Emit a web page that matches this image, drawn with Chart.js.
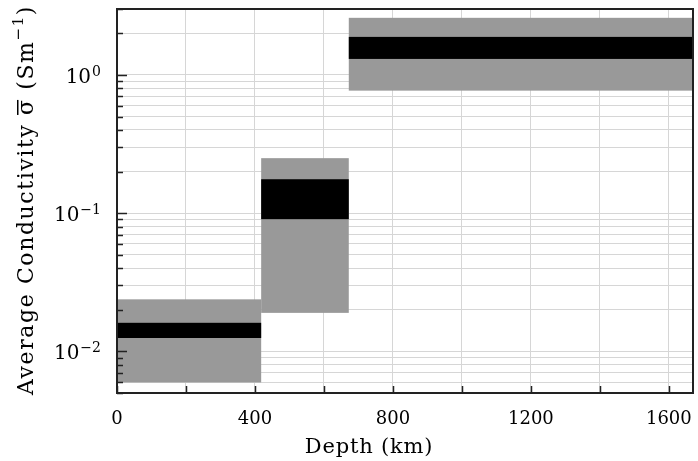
<!DOCTYPE html>
<html>
<head>
<meta charset="utf-8">
<script src="https://cdn.jsdelivr.net/npm/chart.js@4.4.1/dist/chart.umd.min.js"></script>
<style>
  html, body { margin: 0; padding: 0; background: #fff; }
  #wrap { width: 698px; height: 461px; }
</style>
</head>
<body>
<div id="wrap"><canvas id="myConductivityChart"></canvas></div>
<script>
const myConductivityChart = document.getElementById('myConductivityChart');

// layers (km) and conductivity bounds (S/m)
const depthStart = [0, 418, 672];
const depthEnd = [418, 672, 1670];
const sigmaLow = [0.00596, 0.0190, 0.77];
const sigmaHigh = [0.0238, 0.250, 2.59];
const bestLow = [0.0125, 0.0905, 1.306];
const bestHigh = [0.0161, 0.176, 1.885];

const xTicks = [0, 200, 400, 600, 800, 1000, 1200, 1400, 1600];
const xLabelTicks = [0, 400, 800, 1200, 1600];
const yGridValues = [
  0.005, 0.006, 0.007, 0.008, 0.009,
  0.01, 0.02, 0.03, 0.04, 0.05, 0.06, 0.07, 0.08, 0.09,
  0.1, 0.2, 0.3, 0.4, 0.5, 0.6, 0.7, 0.8, 0.9,
  1, 2, 3
];
const yMajors = [0.01, 0.1, 1];
const yExponents = ['\u22122', '\u22121', '0'];
const xTitle = 'Depth (km)';
const yTitleParts = ['Average Conductivity ', '\u03C3', ' (Sm', '\u22121', ')'];

const FONT = "'DejaVu Serif', serif";

const layerBoxes = {
  id: 'layerBoxes',
  beforeDatasetsDraw(chart) {
    const { ctx, chartArea: { top, left, bottom, right }, scales: { x, y } } = chart;
    ctx.save();
    ctx.beginPath();
    ctx.rect(left, top, right - left, bottom - top);
    ctx.clip();
    for (let i = 0; i < depthStart.length; i++) {
      const x0 = x.getPixelForValue(depthStart[i]);
      const x1 = x.getPixelForValue(depthEnd[i]);
      ctx.fillStyle = 'rgb(153, 153, 153)';
      const g0 = y.getPixelForValue(sigmaHigh[i]);
      const g1 = y.getPixelForValue(sigmaLow[i]);
      ctx.fillRect(x0, g0, x1 - x0, g1 - g0);
      ctx.fillStyle = '#000';
      const b0 = y.getPixelForValue(bestHigh[i]);
      const b1 = y.getPixelForValue(bestLow[i]);
      ctx.fillRect(x0, b0, x1 - x0, b1 - b0);
    }
    ctx.restore();
  },
  afterDraw(chart) {
    const { ctx, chartArea: { top, left, bottom, right }, scales: { x, y } } = chart;
    ctx.save();
    // inner ticks + frame
    ctx.strokeStyle = '#222';
    ctx.lineWidth = 1.5;
    ctx.beginPath();
    yGridValues.forEach(v => {
      const py = Math.round(y.getPixelForValue(v)) + 0.5;
      const len = yMajors.includes(v) ? 10 : 6;
      ctx.moveTo(left, py);
      ctx.lineTo(left + len, py);
    });
    xTicks.forEach(v => {
      const px = Math.round(x.getPixelForValue(v)) + 0.5;
      ctx.moveTo(px, bottom);
      ctx.lineTo(px, bottom - 7);
    });
    ctx.stroke();
    ctx.lineWidth = 2;
    ctx.strokeRect(left, top, right - left, bottom - top);

    ctx.fillStyle = '#000';
    // x tick labels
    ctx.font = '18px ' + FONT;
    ctx.textAlign = 'center';
    ctx.textBaseline = 'alphabetic';
    xLabelTicks.forEach(v => {
      ctx.fillText(String(v), x.getPixelForValue(v), bottom + 31);
    });

    // y tick labels 10^n
    yMajors.forEach((v, k) => {
      const py = y.getPixelForValue(v);
      ctx.textAlign = 'right';
      ctx.font = '14px ' + FONT;
      const ew = ctx.measureText(yExponents[k]).width;
      ctx.fillText(yExponents[k], left - 16, py + 1);
      ctx.font = '20px ' + FONT;
      ctx.fillText('10', left - 17 - ew, py + 8);
    });

    // x title
    ctx.font = '21px ' + FONT;
    ctx.letterSpacing = '0.8px';
    ctx.textAlign = 'center';
    ctx.fillText(xTitle, 369, 453);

    // y title, rotated
    ctx.translate(33, 200);
    ctx.rotate(-Math.PI / 2);
    ctx.textAlign = 'left';
    const sizes = [22, 22, 22, 15, 22];
    const shifts = [0, 0, 0, -10, 0];
    ctx.letterSpacing = '0px';
    let natural = 0;
    yTitleParts.forEach((p, i) => { ctx.font = sizes[i] + 'px ' + FONT; natural += ctx.measureText(p).width; });
    const nChars = yTitleParts.join('').length;
    const sp = (390 - natural) / nChars;
    ctx.letterSpacing = sp + 'px';
    let cx = -195;
    yTitleParts.forEach((p, i) => {
      ctx.font = sizes[i] + 'px ' + FONT;
      ctx.fillText(p, cx, shifts[i]);
      const w = ctx.measureText(p).width;
      if (p === '\u03C3') {
        ctx.fillRect(cx, -16, w - sp, 1.5);
      }
      cx += w;
    });
    ctx.restore();
  }
};

new Chart(myConductivityChart, {
  type: 'scatter',
  data: {
    datasets: [{
      data: depthStart.map((d, i) => ({ x: d, y: sigmaLow[i] })),
      pointRadius: 0,
      showLine: false
    }]
  },
  options: {
    responsive: true,
    maintainAspectRatio: false,
    animation: false,
    layout: { padding: { top: 9, right: 5, left: 0, bottom: 0 } },
    scales: {
      x: {
        type: 'linear',
        min: 0,
        max: 1670,
        afterBuildTicks: scale => { scale.ticks = xTicks.map(v => ({ value: v })); },
        afterFit: scale => { scale.height = 68; },
        grid: { color: '#d6d6d6', lineWidth: 1, drawTicks: false },
        border: { display: false },
        ticks: { display: false }
      },
      y: {
        type: 'logarithmic',
        min: 0.005,
        max: 3,
        afterBuildTicks: scale => { scale.ticks = yGridValues.map(v => ({ value: v })); },
        afterFit: scale => { scale.width = 117; },
        grid: { color: '#d6d6d6', lineWidth: 1, drawTicks: false },
        border: { display: false },
        ticks: { display: false }
      }
    },
    plugins: {
      legend: { display: false },
      tooltip: { enabled: false }
    }
  },
  plugins: [layerBoxes]
});
</script>
</body>
</html>
